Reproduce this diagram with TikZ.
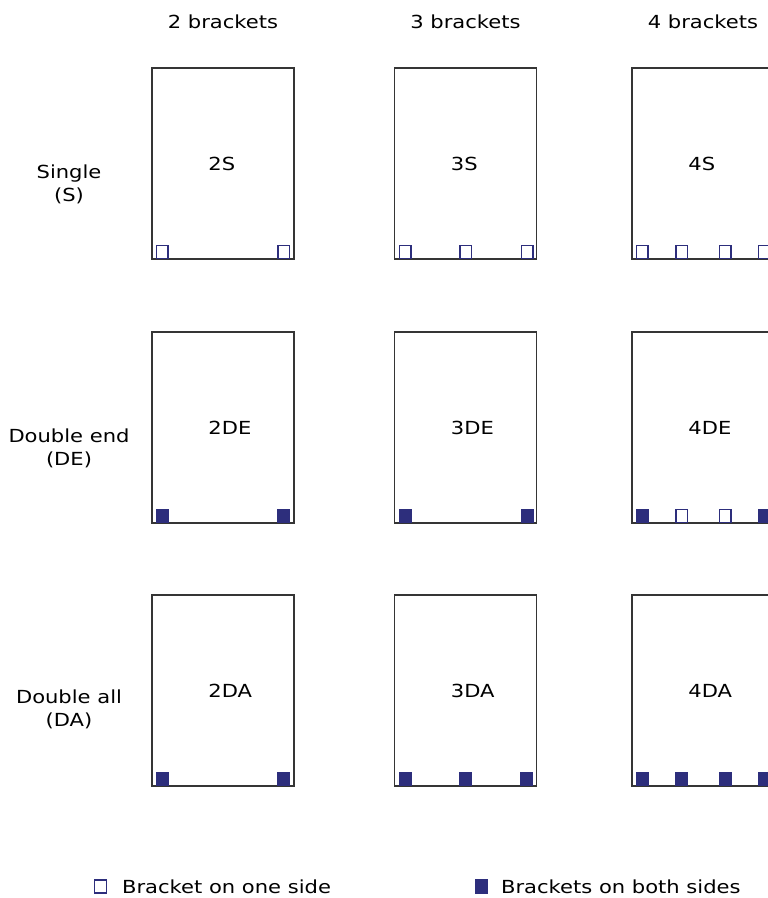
\documentclass[tikz,border=0pt]{standalone}
\usepackage{fontspec}
\setmainfont{DejaVu Sans}[FakeStretch=1.17]
\usetikzlibrary{positioning}

\definecolor{brnavy}{HTML}{2D2E7C}
\definecolor{frame}{HTML}{353535}

\tikzset{
  panel/.style={draw=frame,line width=1.5pt,minimum width=142pt,minimum height=191pt,inner sep=0pt},
  bropen/.style={draw=brnavy,fill=white,line width=1.3pt,minimum width=11.5pt,minimum height=13pt,inner sep=0pt},
  brfull/.style={bropen,fill=brnavy},
  lbl/.style={font=\fontsize{18}{23}\selectfont,inner sep=0pt,text=black}
}

\begin{document}
\begin{tikzpicture}[x=1pt,y=-1pt]
\useasboundingbox (0,0) rectangle (768,898);

% column heads
\foreach \c/\x in {2/223,3/465.5,4/703}
  \node[lbl] (H\c) at (\x,22) {\c\ brackets};

% row heads
\node[lbl,align=center] (RS) at (69,184) {Single\\(S)};
\node[lbl,align=center] (RDE) at (69,448) {Double end\\(DE)};
\node[lbl,align=center] (RDA) at (69,709) {Double all\\(DA)};

% panels with their names
\foreach \tag/\y in {S/163.5,DE/427.5,DA/690.5}
  \foreach \c/\x in {2/223,3/465.5,4/703}
  {
    \node[panel] (P\c\tag) at (\x,\y) {};
    \node[lbl,anchor=west] (T\c\tag) at ([xshift=57pt]P\c\tag.west) {\c\tag};
  }

% brackets along the bottom edge
\foreach \b/\kind/\dx in {
    2S/bropen/4.5,2S/bropen/126,
    3S/bropen/5,3S/bropen/65.5,3S/bropen/127,
    4S/bropen/4.5,4S/bropen/44,4S/bropen/87.5,4S/bropen/126.5,
    2DE/brfull/4.5,2DE/brfull/126,
    3DE/brfull/5,3DE/brfull/127,
    4DE/brfull/4.5,4DE/bropen/44,4DE/bropen/87.5,4DE/brfull/126.5,
    2DA/brfull/4.5,2DA/brfull/126,
    3DA/brfull/5,3DA/brfull/65.5,3DA/brfull/126.5,
    4DA/brfull/4.5,4DA/brfull/44,4DA/brfull/87.5,4DA/brfull/126.5}
  \node[\kind,anchor=south west] (B\b\dx) at ([xshift=\dx pt,yshift=0.7pt]P\b.south west) {};

% legend
\node[bropen] (L1) at (100.5,886.5) {};
\node[lbl,right=15pt of L1] (LT1) {Bracket on one side};
\node[brfull] (L2) at (481.5,886.5) {};
\node[lbl,right=13pt of L2] (LT2) {Brackets on both sides};
\end{tikzpicture}
\end{document}
